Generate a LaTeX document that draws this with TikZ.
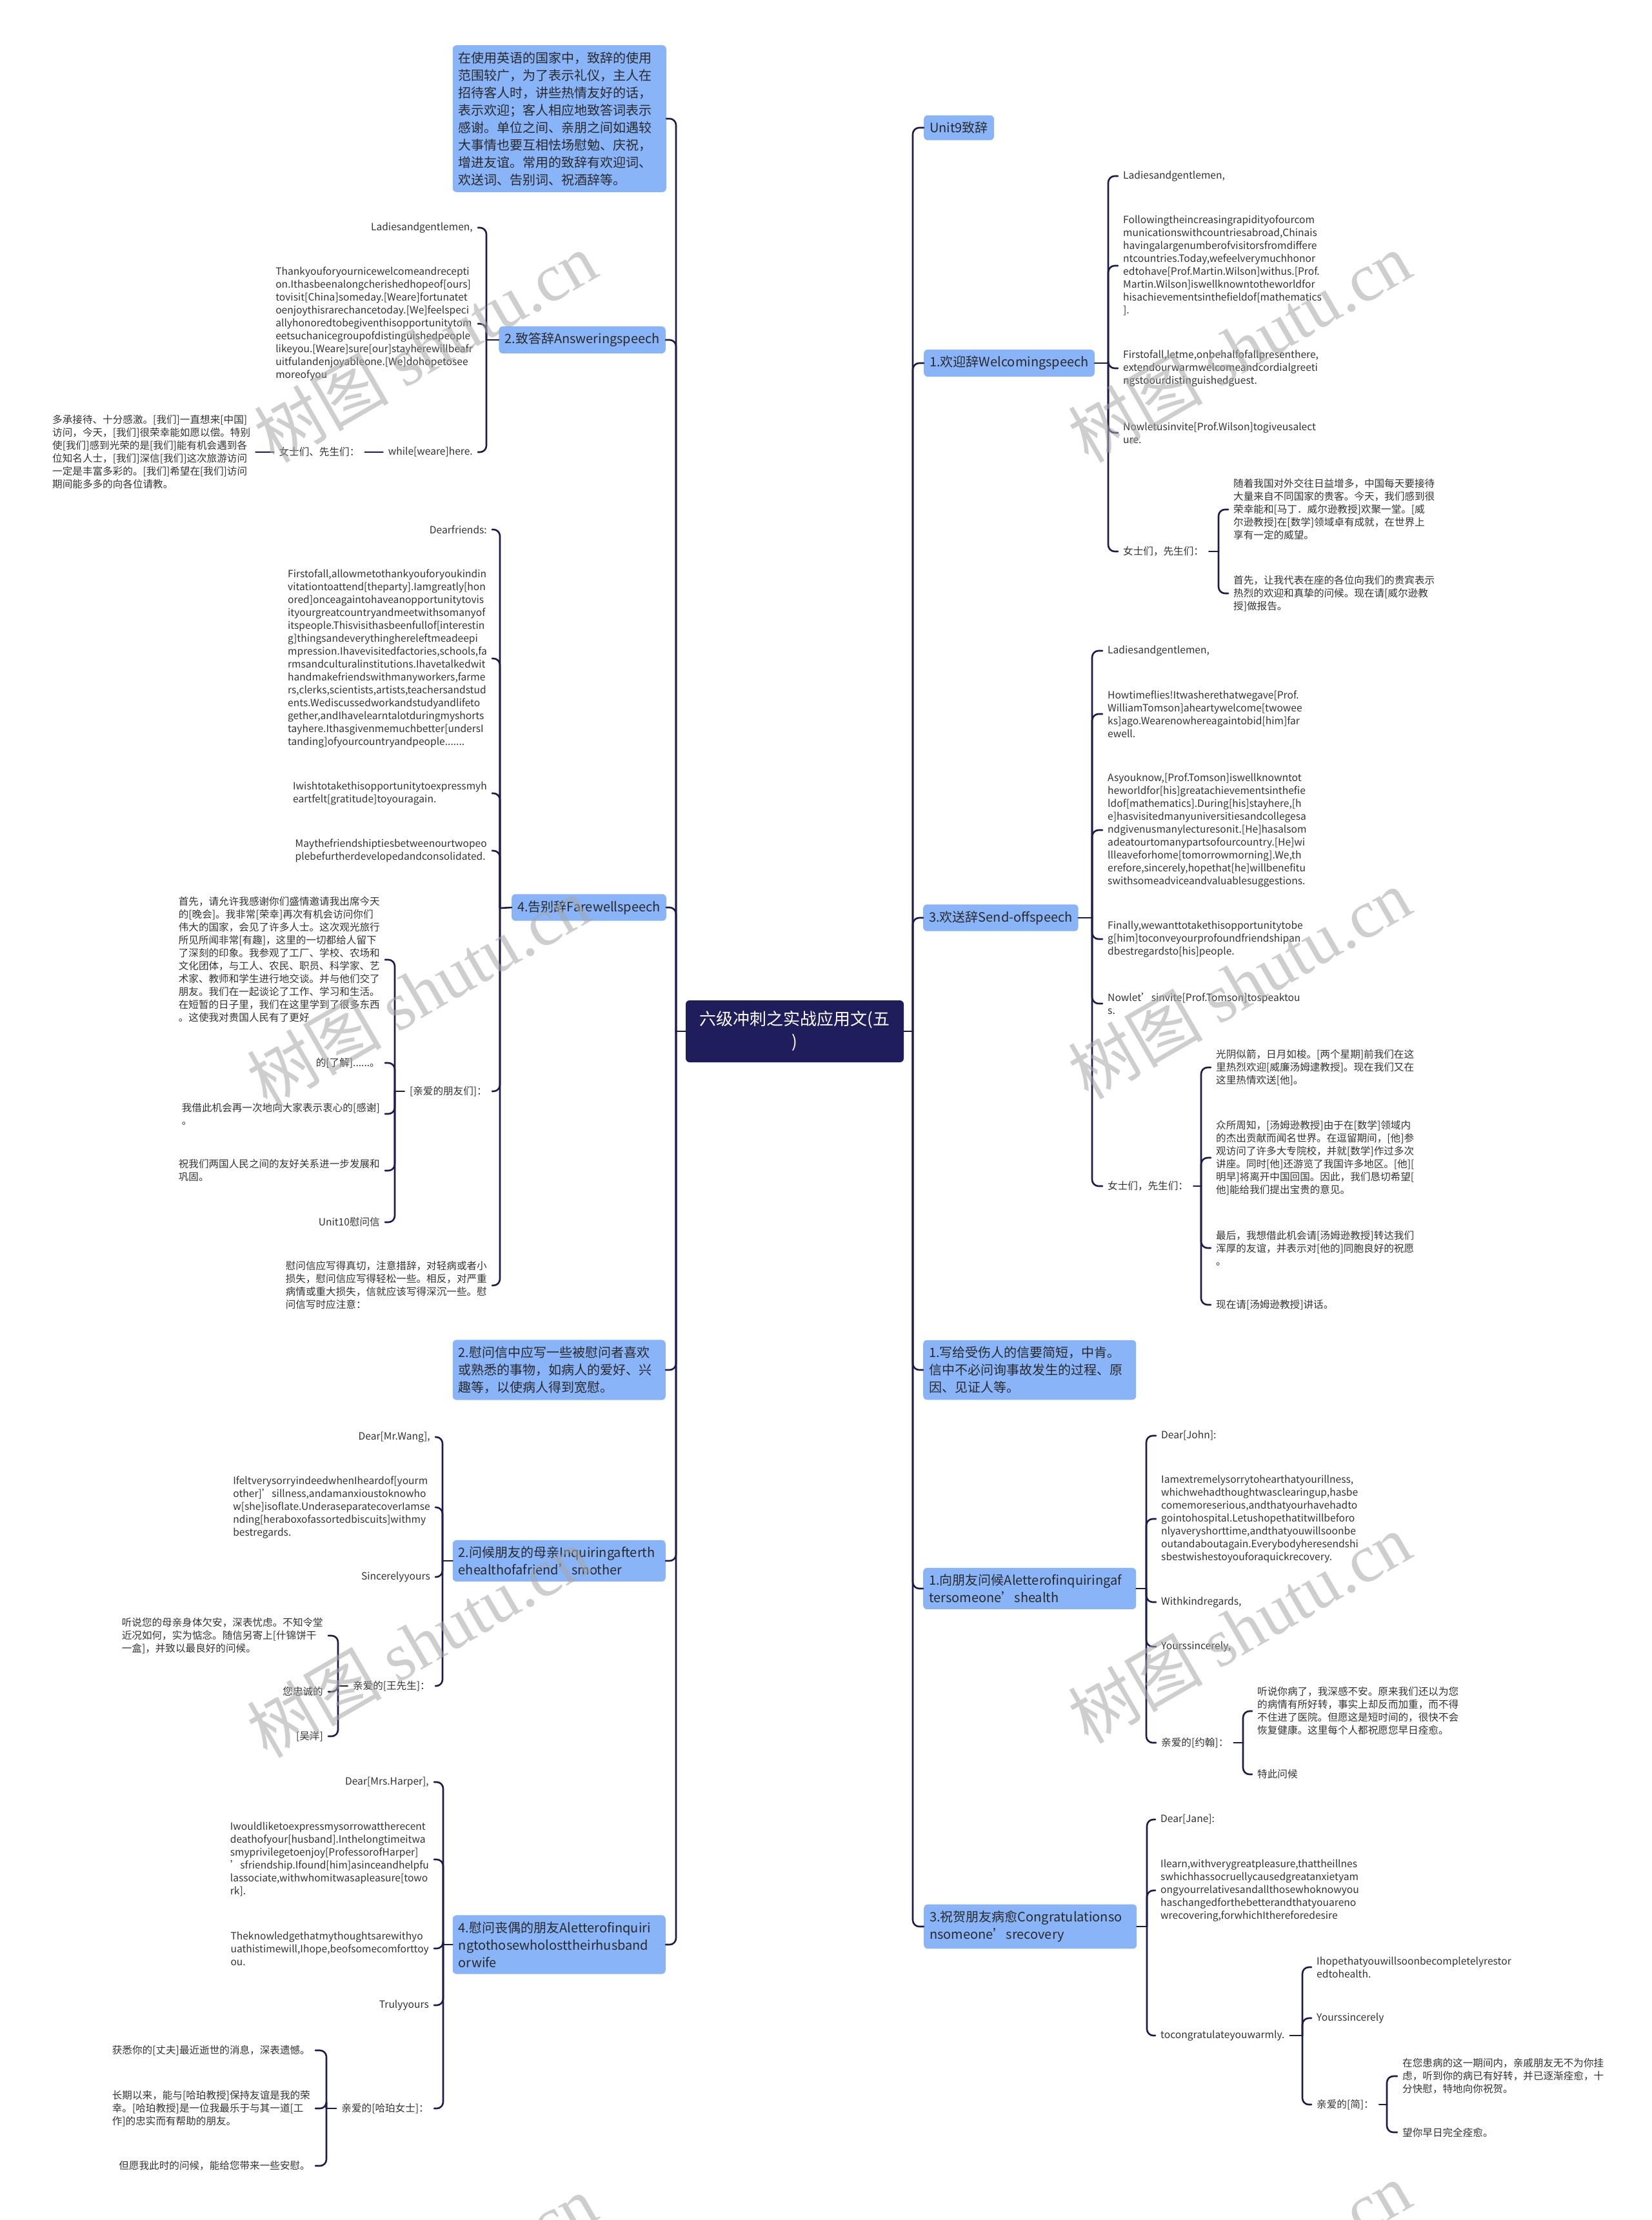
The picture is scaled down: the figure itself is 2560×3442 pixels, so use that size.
\documentclass[tikz,border=0pt]{standalone}
\usepackage{fontspec}
\setmainfont{Noto Sans CJK SC}
\newfontfamily\wmlatin{Liberation Serif}
\usepackage{tikz}
\usetikzlibrary{positioning}
\definecolor{mmnavy}{HTML}{1F1D5C}
\definecolor{mmline}{HTML}{1B1B4D}
\definecolor{mmblue}{HTML}{8AB4F8}
\definecolor{mmtext}{HTML}{333333}

\begin{document}
\begin{tikzpicture}[x=1pt, y=-1pt,
    root/.style={fill=mmnavy, rounded corners=6pt, text=white, align=center,
                 font=\fontsize{26}{35}\selectfont, minimum width=338pt,
                 minimum height=96pt, inner sep=0pt},
    branch/.style={fill=mmblue, rounded corners=6pt, text=mmtext!80!black,
                   font=\fontsize{20}{27}\selectfont, align=left,
                   inner xsep=9pt, inner ysep=10pt},
    wide/.style={branch, text width=312pt},
    leaf/.style={text=mmtext, font=\fontsize{15.6}{20}\selectfont, align=left,
                 inner xsep=8pt, inner ysep=2pt},
    lleaf/.style={leaf, anchor=east},
    rleaf/.style={leaf, anchor=west},
    link/.style={draw=mmline, line width=2.6pt, rounded corners=10pt, line cap=round},
    wm/.style={text=black!35, text opacity=0.55, rotate=30,
               font=\fontsize{105}{110}\selectfont}]
  \fill[white] (0,0) rectangle (2560,3442);
  \useasboundingbox (0,0) rectangle (2560,3442);

  % centre and the two trunks
  \node[root] (root) at (1232,1599) {六级冲刺之实战应用文(五\\)};
  \coordinate (tl) at (1048,1599);
  \coordinate (tr) at (1415,1599);

  % left main branches
  \node[branch, anchor=east, text width=313pt] (intro) at (1033,184)
    {在使用英语的国家中，致辞的使用\\范围较广，为了表示礼仪，主人在\\招待客人时，讲些热情友好的话，\\表示欢迎；客人相应地致答词表示\\感谢。单位之间、亲朋之间如遇较\\大事情也要互相怯场慰勉、庆祝，\\增进友谊。常用的致辞有欢迎词、\\欢送词、告别词、祝酒辞等。};
  \node[branch, anchor=east] (answer) at (1032,527) {2.致答辞Answeringspeech};
  \node[branch, anchor=east] (farewell) at (1033,1407) {4.告别辞Farewellspeech};
  \node[wide, anchor=east] (note2) at (1032,2124)
    {2.慰问信中应写一些被慰问者喜欢\\或熟悉的事物，如病人的爱好、兴\\趣等，以使病人得到宽慰。};
  \node[wide, anchor=east] (mother) at (1032,2420)
    {2.问候朋友的母亲Inquiringafterth\\ehealthofafriend’smother};
  \node[wide, anchor=east] (widow) at (1032,3015)
    {4.慰问丧偶的朋友Aletterofinquiri\\ngtothosewholosttheirhusband\\orwife};

  % right main branches
  \node[branch, anchor=west] (unit9) at (1432,198) {Unit9致辞};
  \node[branch, anchor=west] (welcome) at (1432,563) {1.欢迎辞Welcomingspeech};
  \node[branch, anchor=west] (sendoff) at (1431,1423) {3.欢送辞Send-offspeech};
  \node[wide, anchor=west] (note1) at (1431,2124)
    {1.写给受伤人的信要简短，中肯。\\信中不必问询事故发生的过程、原\\因、见证人等。};
  \node[wide, anchor=west] (inquire) at (1431,2463)
    {1.向朋友问候Aletterofinquiringaf\\tersomeone’shealth};
  \node[wide, anchor=west] (congrats) at (1432,2987)
    {3.祝贺朋友病愈Congratulationso\\nsomeone’srecovery};

  \draw[link] (root.west) -- (tl);
  \draw[link] (root.east) -- (tr);
  \foreach \b in {intro,answer,farewell,note2,mother,widow}
    \draw[link] (tl) |- (\b.east);
  \foreach \b in {unit9,welcome,sendoff,note1,inquire,congrats}
    \draw[link] (tr) |- (\b.west);

  % 2. answering speech
  \coordinate (ta) at (754,527);
  \node[lleaf] (ans1) at (741,353) {Ladiesandgentlemen,};
  \node[lleaf] (ans2) at (741,502)
    {Thankyouforyournicewelcomeandrecepti\\on.Ithasbeenalongcherishedhopeof[ours]\\tovisit[China]someday.[Weare]fortunatet\\oenjoythisrarechancetoday.[We]feelspeci\\allyhonoredtobegiventhisopportunitytom\\eetsuchanicegroupofdistinguishedpeople\\likeyou.[Weare]sure[our]stayherewillbeafr\\uitfulandenjoyableone.[We]dohopetosee\\moreofyou};
  \node[lleaf] (ans3) at (741,701) {while[weare]here.};
  \node[lleaf, left=28pt of ans3] (ans3a) {女士们、先生们：};
  \node[lleaf, left=28pt of ans3a] (ans3b)
    {多承接待、十分感激。[我们]一直想来[中国]\\访问，今天，[我们]很荣幸能如愿以偿。特别\\使[我们]感到光荣的是[我们]能有机会遇到各\\位知名人士，[我们]深信[我们]这次旅游访问\\一定是丰富多彩的。[我们]希望在[我们]访问\\期间能多多的向各位请教。};
  \draw[link] (answer.west) -- (ta);
  \foreach \c in {ans1,ans2,ans3} \draw[link] (ta) |- (\c.east);
  \draw[link] (ans3.west) -- (ans3a.east);
  \draw[link] (ans3a.west) -- (ans3b.east);

  % 4. farewell speech
  \coordinate (tf) at (775,1408);
  \coordinate (tf5) at (612,1692);
  \node[lleaf] (far1) at (763,821) {Dearfriends:};
  \node[lleaf] (far2) at (763,1021)
    {Firstofall,allowmetothankyouforyoukindin\\vitationtoattend[theparty].Iamgreatly[hon\\ored]onceagaintohaveanopportunitytovis\\ityourgreatcountryandmeetwithsomanyof\\itspeople.Thisvisithasbeenfullof[interestin\\g]thingsandeverythinghereleftmeadeepi\\mpression.Ihavevisitedfactories,schools,fa\\rmsandculturalinstitutions.Ihavetalkedwit\\handmakefriendswithmanyworkers,farme\\rs,clerks,scientists,artists,teachersandstud\\ents.Wediscussedworkandstudyandlifeto\\gether,andIhavelearntalotduringmyshorts\\tayhere.Ithasgivenmemuchbetter[undersI\\tanding]ofyourcountryandpeople.......};
  \node[lleaf] (far3) at (763,1230)
    {Iwishtotakethisopportunitytoexpressmyh\\eartfelt[gratitude]toyouragain.};
  \node[lleaf] (far4) at (763,1319)
    {Maythefriendshiptiesbetweenourtwopeo\\plebefurtherdevelopedandconsolidated.};
  \node[lleaf] (far5) at (763,1692) {[亲爱的朋友们]：};
  \node[lleaf] (far6) at (763,1993)
    {慰问信应写得真切，注意措辞，对轻病或者小\\损失，慰问信应写得轻松一些。相反，对严重\\病情或重大损失，信就应该写得深沉一些。慰\\问信写时应注意：};
  \node[lleaf] (far5a) at (597,1488)
    {首先，请允许我感谢你们盛情邀请我出席今天\\的[晚会]。我非常[荣幸]再次有机会访问你们\\伟大的国家，会见了许多人士。这次观光旅行\\所见所闻非常[有趣]，这里的一切都给人留下\\了深刻的印象。我参观了工厂、学校、农场和\\文化团体，与工人、农民、职员、科学家、艺\\术家、教师和学生进行地交谈。并与他们交了\\朋友。我们在一起谈论了工作、学习和生活。\\在短暂的日子里，我们在这里学到了很多东西\\。这使我对贵国人民有了更好};
  \node[lleaf] (far5b) at (597,1648) {的[了解]......。};
  \node[lleaf] (far5c) at (597,1727) {我借此机会再一次地向大家表示衷心的[感谢]\\。};
  \node[lleaf] (far5d) at (597,1815) {祝我们两国人民之间的友好关系进一步发展和\\巩固。};
  \node[lleaf] (far5e) at (597,1895) {Unit10慰问信};
  \draw[link] (farewell.west) -- (tf);
  \foreach \c in {far1,far2,far3,far4,far5,far6} \draw[link] (tf) |- (\c.east);
  \draw[link] (far5.west) -- (tf5);
  \foreach \c in {far5a,far5b,far5c,far5d,far5e} \draw[link] (tf5) |- (\c.east);

  % 2. inquiring after a friend's mother
  \coordinate (tm) at (686,2420);
  \coordinate (tm4) at (524,2614);
  \node[lleaf] (mom1) at (675,2228) {Dear[Mr.Wang],};
  \node[lleaf] (mom2) at (675,2337)
    {IfeltverysorryindeedwhenIheardof[yourm\\other]’sillness,andamanxioustoknowho\\w[she]isoflate.UnderaseparatecoverIamse\\nding[heraboxofassortedbiscuits]withmy\\bestregards.};
  \node[lleaf] (mom3) at (675,2445) {Sincerelyyours};
  \node[lleaf] (mom4) at (675,2614) {亲爱的[王先生]：};
  \node[lleaf] (mom4a) at (509,2536)
    {听说您的母亲身体欠安，深表忧虑。不知令堂\\近况如何，实为惦念。随信另寄上[什锦饼干\\一盒]，并致以最良好的问候。};
  \node[lleaf] (mom4b) at (509,2623) {您忠诚的};
  \node[lleaf] (mom4c) at (509,2692) {[吴洋]};
  \draw[link] (mother.west) -- (tm);
  \foreach \c in {mom1,mom2,mom3,mom4} \draw[link] (tm) |- (\c.east);
  \draw[link] (mom4.west) -- (tm4);
  \foreach \c in {mom4a,mom4b,mom4c} \draw[link] (tm4) |- (\c.east);

  % 4. letter to a widowed friend
  \coordinate (tw) at (687,3015);
  \coordinate (tw5) at (506,3269);
  \node[lleaf] (wid1) at (673,2763) {Dear[Mrs.Harper],};
  \node[lleaf] (wid2) at (673,2883)
    {Iwouldliketoexpressmysorrowattherecent\\deathofyour[husband].Inthelongtimeitwa\\smyprivilegetoenjoy[ProfessorofHarper]\\’sfriendship.Ifound[him]asinceandhelpfu\\lassociate,withwhomitwasapleasure[towo\\rk].};
  \node[lleaf] (wid3) at (673,3021)
    {Theknowledgethatmythoughtsarewithyo\\uathistimewill,Ihope,beofsomecomforttoy\\ou.};
  \node[lleaf] (wid4) at (673,3109) {Trulyyours};
  \node[lleaf] (wid5) at (673,3269) {亲爱的[哈珀女士]：};
  \node[lleaf] (wid5a) at (489,3179) {获悉你的[丈夫]最近逝世的消息，深表遗憾。};
  \node[lleaf] (wid5b) at (489,3269)
    {长期以来，能与[哈珀教授]保持友谊是我的荣\\幸。[哈珀教授]是一位我最乐于与其一道[工\\作]的忠实而有帮助的朋友。};
  \node[lleaf] (wid5c) at (489,3358) {但愿我此时的问候，能给您带来一些安慰。};
  \draw[link] (widow.west) -- (tw);
  \foreach \c in {wid1,wid2,wid3,wid4,wid5} \draw[link] (tw) |- (\c.east);
  \draw[link] (wid5.west) -- (tw5);
  \foreach \c in {wid5a,wid5b,wid5c} \draw[link] (tw5) |- (\c.east);

  % 1. welcoming speech
  \coordinate (tb) at (1718,563);
  \coordinate (tb5) at (1889,855);
  \node[rleaf] (wel1) at (1733,273) {Ladiesandgentlemen,};
  \node[rleaf] (wel2) at (1733,412)
    {Followingtheincreasingrapidityofourcom\\municationswithcountriesabroad,Chinais\\havingalargenumberofvisitorsfromdiffere\\ntcountries.Today,wefeelverymuchhonor\\edtohave[Prof.Martin.Wilson]withus.[Prof.\\Martin.Wilson]iswellknowntotheworldfor\\hisachievementsinthefieldof[mathematics\\].};
  \node[rleaf] (wel3) at (1733,571)
    {Firstofall,letme,onbehalfofallpresenthere,\\extendourwarmwelcomeandcordialgreeti\\ngstoourdistinguishedguest.};
  \node[rleaf] (wel4) at (1733,671) {Nowletusinvite[Prof.Wilson]togiveusalect\\ure.};
  \node[rleaf] (wel5) at (1733,855) {女士们，先生们：};
  \node[rleaf] (wel5a) at (1904,790)
    {随着我国对外交往日益增多，中国每天要接待\\大量来自不同国家的贵客。今天，我们感到很\\荣幸能和[马丁．威尔逊教授]欢聚一堂。[威\\尔逊教授]在[数学]领域卓有成就，在世界上\\享有一定的威望。};
  \node[rleaf] (wel5b) at (1904,920)
    {首先，让我代表在座的各位向我们的贵宾表示\\热烈的欢迎和真挚的问候。现在请[威尔逊教\\授]做报告。};
  \draw[link] (welcome.east) -- (tb);
  \foreach \c in {wel1,wel2,wel3,wel4,wel5} \draw[link] (tb) |- (\c.west);
  \draw[link] (wel5.east) -- (tb5);
  \foreach \c in {wel5a,wel5b} \draw[link] (tb5) |- (\c.west);

  % 3. send-off speech
  \coordinate (ts) at (1693,1423);
  \coordinate (ts6) at (1862,1839);
  \node[rleaf] (snd1) at (1709,1009) {Ladiesandgentlemen,};
  \node[rleaf] (snd2) at (1709,1107)
    {Howtimeflies!Itwasherethatwegave[Prof.\\WilliamTomson]aheartywelcome[twowee\\ks]ago.Wearenowhereagaintobid[him]far\\ewell.};
  \node[rleaf] (snd3) at (1709,1287)
    {Asyouknow,[Prof.Tomson]iswellknowntot\\heworldfor[his]greatachievementsinthefie\\ldof[mathematics].During[his]stayhere,[h\\e]hasvisitedmanyuniversitiesandcollegesa\\ndgivenusmanylecturesonit.[He]hasalsom\\adeatourtomanypartsofourcountry.[He]wi\\llleaveforhome[tomorrowmorning].We,th\\erefore,sincerely,hopethat[he]willbenefitu\\swithsomeadviceandvaluablesuggestions.};
  \node[rleaf] (snd4) at (1709,1456)
    {Finally,wewanttotakethisopportunitytobe\\g[him]toconveyourprofoundfriendshipan\\dbestregardsto[his]people.};
  \node[rleaf] (snd5) at (1709,1556) {Nowlet’sinvite[Prof.Tomson]tospeaktou\\s.};
  \node[rleaf] (snd6) at (1709,1839) {女士们，先生们：};
  \node[rleaf] (snd6a) at (1877,1655)
    {光阴似箭，日月如梭。[两个星期]前我们在这\\里热烈欢迎[威廉汤姆逮教授]。现在我们又在\\这里热情欢送[他]。};
  \node[rleaf] (snd6b) at (1877,1795)
    {众所周知，[汤姆逊教授]由于在[数学]领域内\\的杰出贡献而闻名世界。在逗留期间，[他]参\\观访问了许多大专院校，并就[数学]作过多次\\讲座。同时[他]还游览了我国许多地区。[他][\\明早]将离开中国回国。因此，我们恳切希望[\\他]能给我们提出宝贵的意见。};
  \node[rleaf] (snd6c) at (1877,1935)
    {最后，我想借此机会请[汤姆逊教授]转达我们\\浑厚的友谊，并表示对[他的]同胞良好的祝愿\\。};
  \node[rleaf] (snd6d) at (1877,2023) {现在请[汤姆逊教授]讲话。};
  \draw[link] (sendoff.east) -- (ts);
  \foreach \c in {snd1,snd2,snd3,snd4,snd5,snd6} \draw[link] (ts) |- (\c.west);
  \draw[link] (snd6.east) -- (ts6);
  \foreach \c in {snd6a,snd6b,snd6c,snd6d} \draw[link] (ts6) |- (\c.west);

  % 1. inquiring after someone's health
  \coordinate (tq) at (1777,2463);
  \coordinate (tq5) at (1927,2702);
  \node[rleaf] (inq1) at (1792,2226) {Dear[John]:};
  \node[rleaf] (inq2) at (1792,2355)
    {Iamextremelysorrytohearthatyourillness,\\whichwehadthoughtwasclearingup,hasbe\\comemoreserious,andthatyourhavehadto\\gointohospital.Letushopethatitwillbeforo\\nlyaveryshorttime,andthatyouwillsoonbe\\outandaboutagain.Everybodyheresendshi\\sbestwishestoyouforaquickrecovery.};
  \node[rleaf] (inq3) at (1792,2484) {Withkindregards,};
  \node[rleaf] (inq4) at (1792,2553) {Yourssincerely,};
  \node[rleaf] (inq5) at (1792,2702) {亲爱的[约翰]：};
  \node[rleaf] (inq5a) at (1941,2653)
    {听说你病了，我深感不安。原来我们还以为您\\的病情有所好转，事实上却反而加重，而不得\\不住进了医院。但愿这是短时间的，很快不会\\恢复健康。这里每个人都祝愿您早日痊愈。};
  \node[rleaf] (inq5b) at (1941,2751) {特此问候};
  \draw[link] (inquire.east) -- (tq);
  \foreach \c in {inq1,inq2,inq3,inq4,inq5} \draw[link] (tq) |- (\c.west);
  \draw[link] (inq5.east) -- (tq5);
  \foreach \c in {inq5a,inq5b} \draw[link] (tq5) |- (\c.west);

  % 3. congratulations on recovery
  \coordinate (tc) at (1778,2987);
  \coordinate (tc3) at (2019,3156);
  \coordinate (tc3c) at (2150,3263);
  \node[rleaf] (con1) at (1791,2821) {Dear[Jane]:};
  \node[rleaf] (con2) at (1791,2931)
    {Ilearn,withverygreatpleasure,thattheillnes\\swhichhassocruellycausedgreatanxietyam\\ongyourrelativesandallthosewhoknowyou\\haschangedforthebetterandthatyouareno\\wrecovering,forwhichIthereforedesire};
  \node[rleaf] (con3) at (1791,3156) {tocongratulateyouwarmly.};
  \node[rleaf] (con3a) at (2033,3050) {Ihopethatyouwillsoonbecompletelyrestor\\edtohealth.};
  \node[rleaf] (con3b) at (2033,3129) {Yourssincerely};
  \node[rleaf] (con3c) at (2033,3263) {亲爱的[简]：};
  \node[rleaf] (con3ca) at (2166,3219)
    {在您患病的这一期间内，亲戚朋友无不为你挂\\虑，听到你的病已有好转，并已逐渐痊愈，十\\分快慰，特地向你祝贺。};
  \node[rleaf] (con3cb) at (2166,3306) {望你早日完全痊愈。};
  \draw[link] (congrats.east) -- (tc);
  \foreach \c in {con1,con2,con3} \draw[link] (tc) |- (\c.west);
  \draw[link] (con3.east) -- (tc3);
  \foreach \c in {con3a,con3b,con3c} \draw[link] (tc3) |- (\c.west);
  \draw[link] (con3c.east) -- (tc3c);
  \foreach \c in {con3ca,con3cb} \draw[link] (tc3c) |- (\c.west);

  % watermark
  \begin{scope}
    \clip (0,0) rectangle (2560,3442);
    \foreach \wx/\wy in {659/538, 1921/538, 648/1537, 1921/1525,
                         648/2546, 1921/2524, 659/3550, 1921/3530}
      \node[wm] at (\wx,\wy) {树图 {\wmlatin shutu.cn}};
  \end{scope}
\end{tikzpicture}
\end{document}
